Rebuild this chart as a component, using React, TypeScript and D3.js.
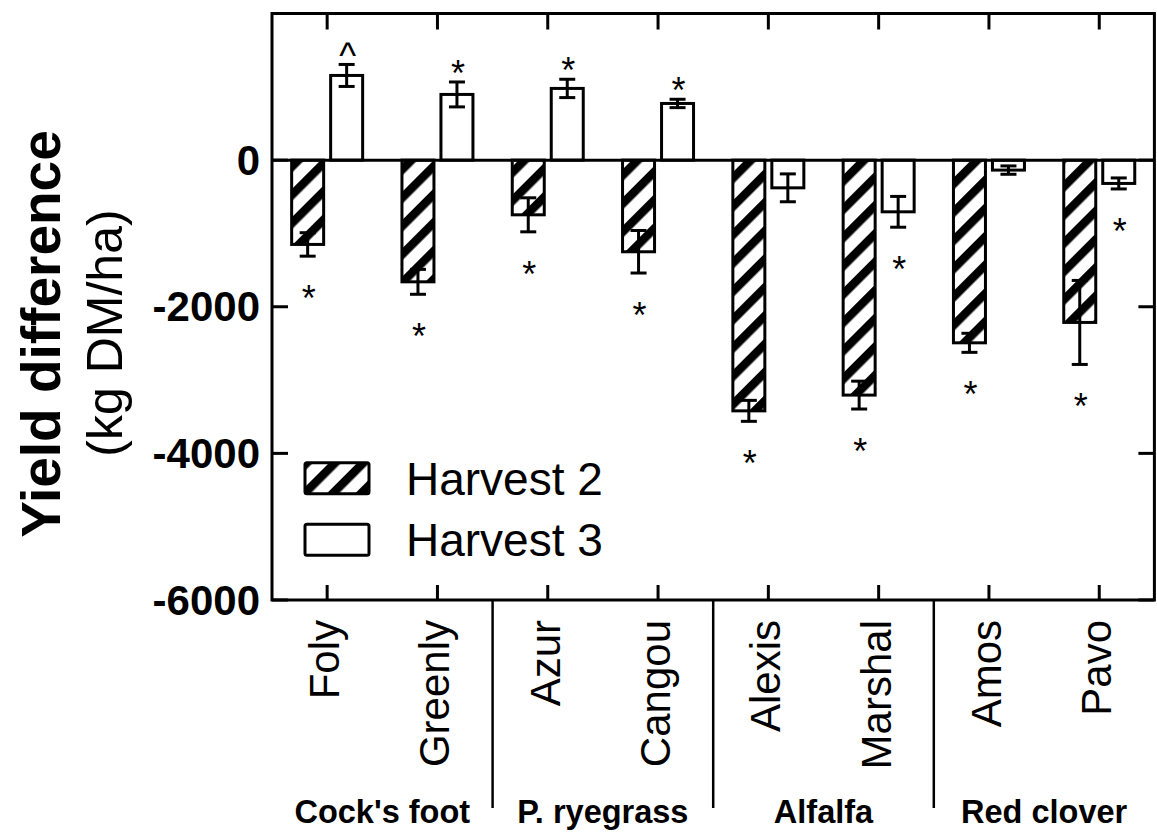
import React from "react";
import * as d3 from "d3";

const cultivars = ["Foly", "Greenly", "Azur", "Cangou", "Alexis", "Marshal", "Amos", "Pavo"];
const groups = ["Cock's foot", "P. ryegrass", "Alfalfa", "Red clover"];
const harvest2 = [-1150, -1660, -746, -1250, -3420, -3205, -2492, -2214];
const harvest2Err = [160, 170, 232, 290, 143, 190, 130, 573];
const harvest3 = [1155, 896, 978, 773, -378, -705, -136, -318];
const harvest3Err = [150, 170, 125, 57, 190, 210, 57, 75];
const harvest2Sig = ["*", "*", "*", "*", "*", "*", "*", "*"];
const harvest3Sig = ["^", "*", "*", "*", "", "*", "", "*"];
const seriesNames = ["Harvest 2", "Harvest 3"];
const yTicks = [0, -2000, -4000, -6000];
const yDomain = [-6000, 2000];

const FONT = "'Liberation Sans', Arial, sans-serif";

export default function App() {
  const left = 272;
  const right = 1154.4;
  const top = 13.5;
  const bottom = 600;

  const x = d3.scaleBand<string>().domain(cultivars).range([left, right]).padding(0);
  const xs = d3
    .scaleBand<string>()
    .domain(["h2", "h3"])
    .range([0, x.bandwidth()])
    .paddingInner(0.1795)
    .paddingOuter(0.504);
  const y = d3.scaleLinear().domain(yDomain).range([bottom, top]);

  const series = [
    { key: "h2", values: harvest2, errs: harvest2Err, sig: harvest2Sig, fill: "url(#hatch)" },
    { key: "h3", values: harvest3, errs: harvest3Err, sig: harvest3Sig, fill: "#fff" },
  ];

  const bw = xs.bandwidth();
  const capW = 16;

  return (
    <svg width={1157} height={832} style={{ display: "block", position: "absolute", left: 0, top: 0 }} fontFamily={FONT}>
      <defs>
        <pattern id="hatch" patternUnits="userSpaceOnUse" width={20} height={20} patternTransform="rotate(45)">
          <rect x={0} y={0} width={20} height={20} fill="#fff" />
          <rect x={0} y={0} width={8.5} height={20} fill="#000" />
        </pattern>
      </defs>
      <rect x={0} y={0} width={1157} height={832} fill="#fff" />

      {/* bars */}
      {series.map((s) =>
        cultivars.map((c, i) => {
          const v = s.values[i];
          const bx = (x(c) as number) + (xs(s.key) as number);
          const y0 = y(0);
          const yv = y(v);
          return (
            <rect
              key={s.key + c}
              x={bx}
              y={Math.min(y0, yv)}
              width={bw}
              height={Math.abs(yv - y0)}
              fill={s.fill}
              stroke="#000"
              strokeWidth={3}
            />
          );
        })
      )}

      {/* error bars */}
      {series.map((s) =>
        cultivars.map((c, i) => {
          const v = s.values[i];
          const e = s.errs[i];
          const cx = (x(c) as number) + (xs(s.key) as number) + bw / 2;
          const y1 = y(v + e);
          const y2 = y(v - e);
          return (
            <g key={"e" + s.key + c} stroke="#000" strokeWidth={3}>
              <line x1={cx} x2={cx} y1={y1} y2={y2} />
              <line x1={cx - capW / 2} x2={cx + capW / 2} y1={y1} y2={y1} />
              <line x1={cx - capW / 2} x2={cx + capW / 2} y1={y2} y2={y2} />
            </g>
          );
        })
      )}

      {/* significance marks */}
      {series.map((s) =>
        cultivars.map((c, i) => {
          const mark = s.sig[i];
          if (!mark) return null;
          const v = s.values[i];
          const e = s.errs[i];
          const cx = (x(c) as number) + (xs(s.key) as number) + bw / 2 + 1;
          const cy = v >= 0 ? y(v + e) - 16 : y(v - e) + 35;
          return (
            <text key={"s" + s.key + c} x={cx} y={cy + 20} textAnchor="middle" fontSize={36}>
              {mark}
            </text>
          );
        })
      )}

      {/* zero line */}
      <line x1={left} x2={right} y1={y(0)} y2={y(0)} stroke="#000" strokeWidth={3} />

      {/* frame */}
      <rect x={left} y={top} width={right - left} height={bottom - top} fill="none" stroke="#000" strokeWidth={3} />

      {/* y ticks */}
      {yTicks.map((t) => (
        <g key={"yt" + t}>
          <line x1={left} x2={left + 16} y1={y(t)} y2={y(t)} stroke="#000" strokeWidth={3} />
          <line x1={right - 16} x2={right} y1={y(t)} y2={y(t)} stroke="#000" strokeWidth={3} />
          <text x={260} y={y(t)} textAnchor="end" dominantBaseline="central" fontSize={42} fontWeight="bold">
            {t}
          </text>
        </g>
      ))}

      {/* x ticks top and bottom */}
      {cultivars.map((c) => {
        const cx = (x(c) as number) + x.bandwidth() / 2;
        return (
          <g key={"xt" + c} stroke="#000" strokeWidth={3}>
            <line x1={cx} x2={cx} y1={top} y2={top + 16} />
            <line x1={cx} x2={cx} y1={bottom} y2={bottom - 15} />
          </g>
        );
      })}

      {/* cultivar labels */}
      {cultivars.map((c) => {
        const cx = (x(c) as number) + x.bandwidth() / 2 + 12;
        return (
          <text key={"xl" + c} transform={`translate(${cx},620) rotate(-90)`} textAnchor="end" fontSize={42}>
            {c}
          </text>
        );
      })}

      {/* group separators and labels */}
      {groups.map((g, gi) => {
        const x0 = x(cultivars[gi * 2]) as number;
        const x1 = (x(cultivars[gi * 2 + 1]) as number) + x.bandwidth();
        return (
          <g key={"g" + g}>
            {gi > 0 && <line x1={x0} x2={x0} y1={bottom} y2={808} stroke="#000" strokeWidth={2.5} />}
            <text x={(x0 + x1) / 2} y={823} textAnchor="middle" fontSize={32.5} fontWeight="bold">
              {g}
            </text>
          </g>
        );
      })}

      {/* legend */}
      {seriesNames.map((n, i) => (
        <g key={"lg" + n}>
          <rect
            x={305}
            y={462.7 + i * 61.6}
            width={64}
            height={31}
            rx={2}
            fill={i === 0 ? "url(#hatch)" : "#fff"}
            stroke="#000"
            strokeWidth={3}
          />
          <text x={406} y={495 + i * 61} fontSize={46}>
            {n}
          </text>
        </g>
      ))}

      {/* axis title */}
      <text transform="translate(60,334) rotate(-90)" textAnchor="middle" fontSize={55} fontWeight="bold">
        Yield difference
      </text>
      <text transform="translate(122,333) rotate(-90)" textAnchor="middle" fontSize={50}>
        (kg DM/ha)
      </text>
    </svg>
  );
}
